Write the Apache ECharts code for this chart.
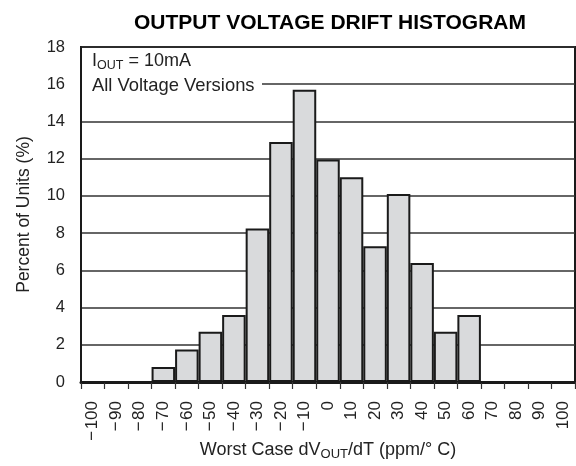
<!DOCTYPE html>
<html>
<head>
<meta charset="utf-8">
<script src="https://cdn.jsdelivr.net/npm/echarts@6/dist/echarts.min.js"></script>
<style>html,body{margin:0;padding:0;background:#fff}#c{width:576px;height:466px}</style>
</head>
<body>
<div id="c"></div>
<script>
var categories = ['-100','-90','-80','-70','-60','-50','-40','-30','-20','-10','0','10','20','30','40','50','60','70','80','90','100'];
var percentUnits = [0,0,0,0.8,1.75,2.7,3.6,8.25,12.9,15.7,11.95,11.0,7.3,10.1,6.4,2.7,3.6,0,0,0,0];
var yTicks = {min:0, max:18, interval:2};

var FONT = '"Liberation Sans", Arial, sans-serif';
var chart = echarts.init(document.getElementById('c'));
chart.setOption({
  animation: false,
  backgroundColor: '#fff',
  title: {
    text: 'OUTPUT VOLTAGE DRIFT HISTOGRAM',
    left: 325, textAlign: 'center', top: 8,
    textStyle: {fontFamily: FONT, fontWeight: 'bold', fontSize: 21, color: '#000'}
  },
  grid: {left: 81, right: 1, top: 47, bottom: 84, outerBoundsMode: 'none', containLabel: false,
    show: true, borderColor: '#1a1a1a', borderWidth: 2},
  xAxis: {
    type: 'category',
    data: categories,
    boundaryGap: true,
    axisLine: {lineStyle: {color: '#1a1a1a', width: 3}},
    axisTick: {show: true, interval: 0, length: 7, lineStyle: {color: '#333', width: 1.2}},
    axisLabel: {
      interval: 0, rotate: 90, margin: 19,
      fontFamily: FONT, fontSize: 17, color: '#222',
      formatter: function (v) { return v.replace('-', '\u2212\u200A'); }
    },
    name: 'Worst Case dV{sub|OUT}/dT (ppm/\u00B0 C)',
    nameLocation: 'middle', nameGap: 57, nameMoveOverlap: false,
    nameTextStyle: {
      fontFamily: FONT, fontSize: 18, color: '#222',
      rich: {sub: {fontFamily: FONT, fontSize: 13, color: '#222', verticalAlign: 'bottom', padding: [9, 0, 0, 0]}}
    }
  },
  yAxis: {
    type: 'value',
    min: yTicks.min, max: yTicks.max, interval: yTicks.interval,
    axisLine: {show: true, lineStyle: {color: '#1a1a1a', width: 2}},
    axisTick: {show: false},
    splitLine: {lineStyle: {color: '#333', width: 1.5}},
    axisLabel: {margin: 16, fontFamily: FONT, fontSize: 16.5, color: '#222'},
    name: 'Percent of Units (%)',
    nameLocation: 'middle', nameGap: 48, nameMoveOverlap: false,
    nameTextStyle: {fontFamily: FONT, fontSize: 17.5, color: '#222'}
  },
  graphic: [
    {type: 'rect', z: 50, shape: {x: 82, y: 50, width: 180, height: 46}, style: {fill: '#fff'}},
    {type: 'text', z: 51, left: 92, top: 52,
      style: {text: 'I{sub|OUT} = 10mA', font: '18px ' + FONT, fill: '#222',
        rich: {sub: {fontFamily: FONT, fontSize: 12.5, fill: '#222', verticalAlign: 'bottom', padding: [9, 0, 0, 0]}}}},
    {type: 'text', z: 51, left: 92, top: 77,
      style: {text: 'All Voltage Versions', font: '18.4px ' + FONT, fill: '#222'}}
  ],
  series: [{
    type: 'bar',
    data: percentUnits,
    barCategoryGap: '0%',
    itemStyle: {color: '#d9dadc', borderColor: '#1a1a1a', borderWidth: 2}
  }]
});
</script>
</body>
</html>
